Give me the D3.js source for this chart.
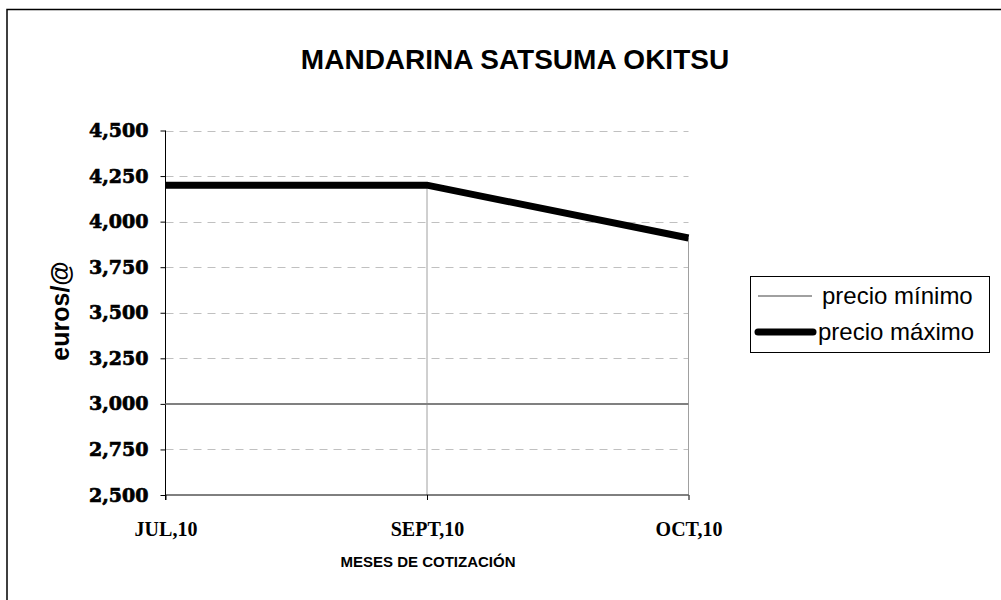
<!DOCTYPE html>
<html><head><meta charset="utf-8">
<script src="https://cdn.jsdelivr.net/npm/d3@7"></script>
<style>body{margin:0;background:#fff}svg{display:block}</style>
</head><body><svg id="c" width="1001" height="600"></svg>
<script>
const categories = ["JUL,10", "SEPT,10", "OCT,10"];
const precioMinimo = [3.0, 3.0, 3.0];
const precioMaximo = [4.2, 4.2, 3.91];
const yTicks = [2.5, 2.75, 3.0, 3.25, 3.5, 3.75, 4.0, 4.25, 4.5];
const seriesNames = ["precio mínimo", "precio máximo"];
const title = "MANDARINA SATSUMA OKITSU";
const yTitle = "euros/@";
const xTitle = "MESES DE COTIZACIÓN";

const svg = d3.select("#c");
svg.append("rect").attr("x",7).attr("y",9.5).attr("width",1010).attr("height",620)
  .attr("fill","#fff").attr("stroke","#000").attr("stroke-width",1.5);

const x = d3.scalePoint().domain(categories).range([165.5, 688.5]);
const y = d3.scaleLinear().domain([2.5, 4.5]).range([495, 130.5]);

// gridlines
svg.append("g").selectAll("line").data(yTicks.filter(t => t > 2.5)).join("line")
  .attr("x1", 165.5).attr("x2", 688.5)
  .attr("y1", d => Math.round(y(d)) + 0.5).attr("y2", d => Math.round(y(d)) + 0.5)
  .attr("stroke", "#c0c0c0").attr("stroke-dasharray", "8,6");

// drop lines
svg.append("g").selectAll("line").data(categories).join("line")
  .attr("x1", d => x(d)).attr("x2", d => x(d))
  .attr("y1", (d, i) => y(Math.max(precioMaximo[i], precioMinimo[i]))).attr("y2", y(2.5))
  .attr("stroke", "#a0a0a0").attr("stroke-width", 1);

// axes
const yAxis = d3.axisLeft(y).tickValues(yTicks).tickSize(5).tickPadding(12)
  .tickFormat(d => d3.format(".3f")(d).replace(".", ","));
const gy = svg.append("g").attr("transform", "translate(165.5,0)").call(yAxis);
gy.select(".domain").attr("stroke", "#000").attr("d", "M-0," + y(4.5) + "V" + (y(2.5) + 5));
gy.selectAll(".tick line").attr("stroke", "#000");
gy.selectAll("text").attr("font-family", "DejaVu Serif").attr("font-weight", "bold")
  .attr("font-size", 19).attr("fill", "#000").attr("stroke", "#000").attr("stroke-width", 0.7);

const xAxis = d3.axisBottom(x).tickSize(5).tickPadding(22);
const gx = svg.append("g").attr("transform", "translate(0," + y(2.5) + ")").call(xAxis);
gx.select(".domain").attr("stroke", "#000").attr("d", "M165.5,0H688.5");
gx.selectAll(".tick line").attr("stroke", "#000");
gx.selectAll("text").attr("font-family", "Liberation Serif").attr("font-weight", "bold")
  .attr("font-size", 20).attr("fill", "#000");

// series
const line = d3.line().x((d, i) => x(categories[i])).y(d => y(d));
svg.append("path").datum(precioMinimo).attr("d", line).attr("fill", "none")
  .attr("stroke", "#808080").attr("stroke-width", 2);
svg.append("path").datum(precioMaximo).attr("d", line).attr("fill", "none")
  .attr("stroke", "#000").attr("stroke-width", 7);

// titles
svg.append("text").attr("x", 515).attr("y", 69).attr("text-anchor", "middle")
  .attr("font-family", "Liberation Sans").attr("font-weight", "bold").attr("font-size", 28).text(title);
svg.append("text").attr("transform", "translate(69,311) rotate(-90)").attr("text-anchor", "middle")
  .attr("font-family", "Liberation Sans").attr("font-weight", "bold").attr("font-size", 25).text(yTitle);
svg.append("text").attr("x", 428).attr("y", 567).attr("text-anchor", "middle")
  .attr("font-family", "Liberation Sans").attr("font-weight", "bold").attr("font-size", 15).text(xTitle);

// legend
const lg = svg.append("g");
lg.append("rect").attr("x", 750.5).attr("y", 276.5).attr("width", 239).attr("height", 76)
  .attr("fill", "#fff").attr("stroke", "#000").attr("stroke-width", 1);
const styles = [{c: "#808080", w: 1.5, x1: 758, x2: 812, tx: 822}, {c: "#000", w: 7, x1: 758, x2: 813, tx: 818}];
seriesNames.forEach((n, i) => {
  const yy = 296 + i * 36;
  const s = styles[i];
  lg.append("line").attr("x1", s.x1).attr("x2", s.x2).attr("y1", yy).attr("y2", yy)
    .attr("stroke", s.c).attr("stroke-width", s.w).attr("stroke-linecap", i ? "round" : "butt");
  lg.append("text").attr("x", s.tx).attr("y", yy + 8).attr("font-family", "Liberation Sans")
    .attr("font-size", 24).text(n);
});
</script></body></html>
